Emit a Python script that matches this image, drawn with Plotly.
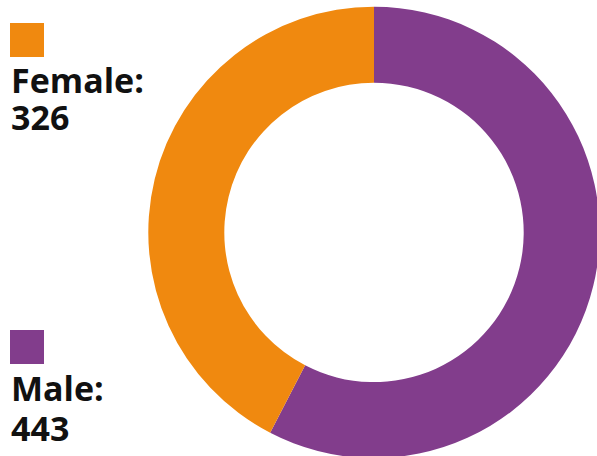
import plotly.graph_objects as go

labels = ["Male", "Female"]
values = [443, 326]
colors = ["#823D8C", "#F0890F"]

W, H = 600, 460

# pie geometry (pixels)
cx, cy, r = 374.0, 232.4, 225.7
hole = 149.7 / 225.7

fig = go.Figure(go.Pie(
    labels=labels,
    values=values,
    sort=False,
    direction="clockwise",
    rotation=0,
    hole=hole,
    marker=dict(colors=colors, line=dict(width=0)),
    textinfo="none",
    showlegend=False,
    domain=dict(x=[(cx - r) / W, (cx + r) / W],
                y=[1 - (cy + r) / H, 1 - (cy - r) / H]),
))

# legend (custom): square above two lines of text
legend_pos = {"Female": (23, 79.6, 116.7), "Male": (330, 388.3, 428.3)}
shapes = []
annotations = []
for lab, val, col in zip(labels, values, colors):
    sq_top, l1, l2 = legend_pos[lab]
    shapes.append(dict(type="rect", xref="paper", yref="paper",
                       x0=10 / W, x1=44 / W,
                       y0=1 - (sq_top + 34) / H, y1=1 - sq_top / H,
                       fillcolor=col, line=dict(width=0)))
    for txt, py in ((f"{lab}:", l1), (str(val), l2)):
        annotations.append(dict(text=f"<b>{txt}</b>", xref="paper", yref="paper",
                                x=9 / W, y=1 - py / H, xanchor="left", yanchor="middle",
                                height=32, valign="middle",
                                showarrow=False,
                                font=dict(family="Open Sans", size=34, color="#111111")))

fig.update_layout(
    width=W, height=H,
    margin=dict(l=0, r=0, t=0, b=0),
    paper_bgcolor="white",
    plot_bgcolor="white",
    shapes=shapes,
    annotations=annotations,
)

fig.write_html("out.html")
